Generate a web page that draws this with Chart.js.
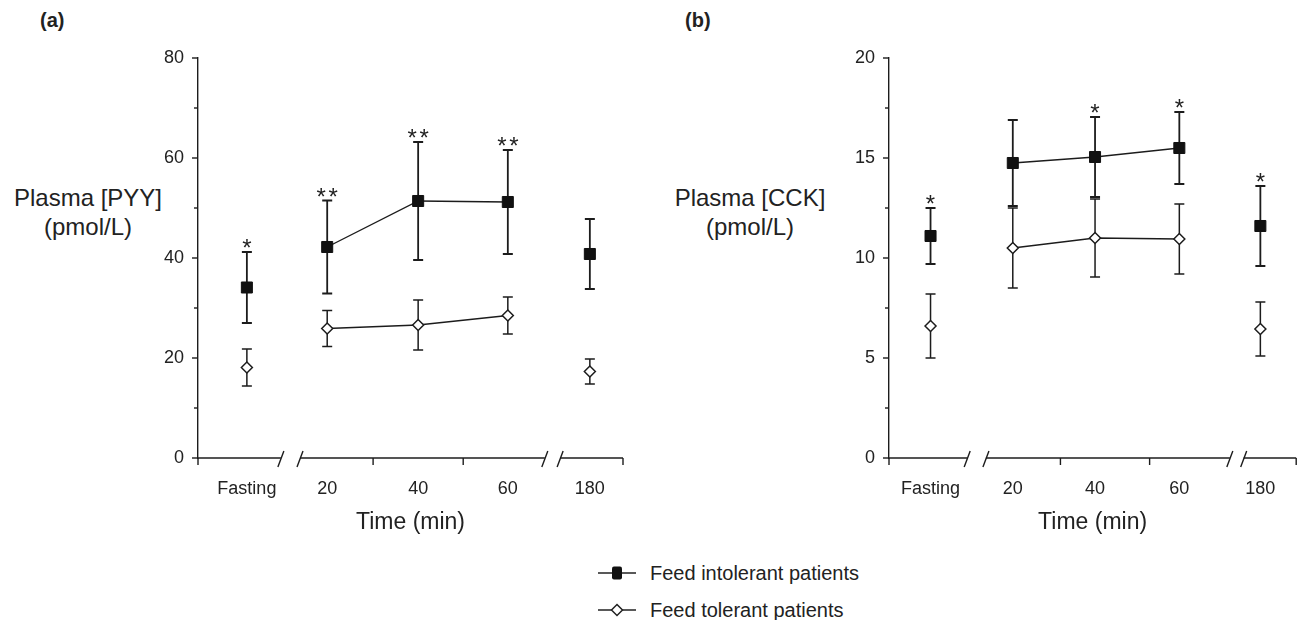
<!DOCTYPE html>
<html>
<head>
<meta charset="utf-8">
<title>Plasma PYY and CCK</title>
<script src="https://cdn.jsdelivr.net/npm/chart.js@4.4.1/dist/chart.umd.min.js"></script>
<style>
  body { margin: 0; width: 1305px; height: 620px; background: #fff; position: relative; overflow: hidden;
         font-family: "Liberation Sans", Arial, sans-serif; color: #222; }
  canvas { position: absolute; top: 0; }
  .tag { position: absolute; top: 9px; font-weight: bold; font-size: 20px; }
  .ylab { position: absolute; top: 183px; font-size: 24px; line-height: 29px; text-align: center;
          transform: translateX(-50%); white-space: nowrap; }
  .leg { position: absolute; left: 598px; font-size: 20px; display: flex; align-items: center; height: 24px; }
  .leg svg { margin-right: 14px; }
</style>
</head>
<body>
<div class="tag" style="left:40px">(a)</div>
<div class="tag" style="left:685px">(b)</div>
<div class="ylab" style="left:88px">Plasma [PYY]<br>(pmol/L)</div>
<div class="ylab" style="left:750px">Plasma [CCK]<br>(pmol/L)</div>

<canvas id="chartPYY" width="650" height="540" style="left:0"></canvas>
<canvas id="chartCCK" width="655" height="540" style="left:650px"></canvas>

<div class="leg" style="top:561px">
  <svg width="38" height="20"><line x1="0" y1="10" x2="38" y2="10" stroke="#222" stroke-width="1.5"/>
    <rect x="14" y="3.5" width="10" height="13" rx="2" fill="#111"/></svg>
  <span>Feed intolerant patients</span>
</div>
<div class="leg" style="top:598px">
  <svg width="38" height="20"><line x1="0" y1="10" x2="38" y2="10" stroke="#222" stroke-width="1.5"/>
    <polygon points="19,4.5 24.5,10 19,15.5 13.5,10" fill="#fff" stroke="#222" stroke-width="1.5"/></svg>
  <span>Feed tolerant patients</span>
</div>

<script>
// time points
const categories = ["Fasting", "20", "40", "60", "180"];
// only 20-40-60 min are joined by a line
const linked = [1, 2, 3];

// PYY (pmol/L), mean and error
const pyyIntolerant = [34.1, 42.2, 51.4, 51.2, 40.8];
const pyyIntolerantErr = [7.1, 9.3, 11.8, 10.4, 7.0];
const pyyTolerant = [18.1, 25.9, 26.6, 28.5, 17.3];
const pyyTolerantErr = [3.7, 3.6, 5.0, 3.7, 2.5];
const pyyStars = ["*", "**", "**", "**", ""];

// CCK (pmol/L), mean and error
const cckIntolerant = [11.1, 14.75, 15.05, 15.5, 11.6];
const cckIntolerantErr = [1.4, 2.15, 2.0, 1.8, 2.0];
const cckTolerant = [6.6, 10.5, 11.0, 10.95, 6.45];
const cckTolerantErr = [1.6, 2.0, 1.95, 1.75, 1.35];
const cckStars = ["*", "", "*", "*", "*"];

// y tick labels
const pyyTicks = [0, 20, 40, 60, 80];
const cckTicks = [0, 5, 10, 15, 20];

const ink = "#1c1c1c";
const fontFamily = '"Liberation Sans", Arial, sans-serif';
Chart.defaults.font.family = fontFamily;
Chart.defaults.color = "#222";

// broken x axis: category slots and breaks as fractions of the axis
const layoutA = { slots: [0.115, 0.304, 0.518, 0.729, 0.922], breaks: [[0.195, 0.24], [0.816, 0.852]], marks: [0.412, 0.624] };
const layoutB = { slots: [0.102, 0.304, 0.506, 0.713, 0.912], breaks: [[0.192, 0.238], [0.837, 0.871]], marks: [0.421, 0.64] };

const axisPlugin = {
  id: "brokenAxis",
  afterDraw(chart) {
    const { ctx, chartArea, scales: { x, y } } = chart;
    const lay = chart.options.plugins.brokenAxis;
    const y0 = chartArea.bottom;
    ctx.save();
    ctx.strokeStyle = ink;
    ctx.lineWidth = 1.4;
    // x axis segments with slashes
    const cuts = [0];
    lay.breaks.forEach(b => cuts.push(b[0], b[1]));
    cuts.push(1);
    for (let i = 0; i < cuts.length; i += 2) {
      const a = x.getPixelForValue(cuts[i]), b = x.getPixelForValue(cuts[i + 1]);
      ctx.beginPath();
      ctx.moveTo(a, y0); ctx.lineTo(b, y0);
      ctx.stroke();
      if (i > 0) slash(ctx, a, y0);
      if (i + 1 < cuts.length - 1) slash(ctx, b, y0);
    }
    // downward ticks on x axis
    [0, ...lay.marks, 1].forEach(v => {
      const px = x.getPixelForValue(v);
      ctx.beginPath(); ctx.moveTo(px, y0); ctx.lineTo(px, y0 + 7); ctx.stroke();
    });
    // y ticks, major and minor
    const step = lay.minor;
    for (let v = y.min; v <= y.max + 1e-9; v += step) {
      const py = y.getPixelForValue(v);
      const len = lay.major.includes(v) ? 6 : 4;
      ctx.beginPath(); ctx.moveTo(chartArea.left - len, py); ctx.lineTo(chartArea.left, py); ctx.stroke();
    }
    ctx.restore();
  }
};

function slash(ctx, px, py) {
  ctx.beginPath();
  ctx.moveTo(px - 3, py + 9);
  ctx.lineTo(px + 3, py - 7);
  ctx.stroke();
}

const errorPlugin = {
  id: "errorBars",
  beforeDatasetsDraw(chart) {
    const { ctx, scales: { y } } = chart;
    chart.data.datasets.forEach((ds, di) => {
      const meta = chart.getDatasetMeta(di);
      ctx.save();
      ctx.strokeStyle = ink;
      ctx.lineWidth = ds.errWidth;
      meta.data.forEach((pt, i) => {
        const v = ds.data[i].y, e = ds.errors[i];
        const top = y.getPixelForValue(v + e), bot = y.getPixelForValue(v - e);
        ctx.beginPath();
        ctx.moveTo(pt.x, top); ctx.lineTo(pt.x, bot);
        ctx.moveTo(pt.x - 5, top); ctx.lineTo(pt.x + 5, top);
        ctx.moveTo(pt.x - 5, bot); ctx.lineTo(pt.x + 5, bot);
        ctx.stroke();
      });
      ctx.restore();
    });
  },
  afterDatasetsDraw(chart) {
    const { ctx, scales: { y } } = chart;
    const ds = chart.data.datasets[0];
    const meta = chart.getDatasetMeta(0);
    ctx.save();
    ctx.fillStyle = "#222";
    ctx.font = "24px " + fontFamily;
    ctx.textAlign = "center";
    ctx.textBaseline = "alphabetic";
    meta.data.forEach((pt, i) => {
      const s = ds.stars[i];
      if (!s) return;
      const top = y.getPixelForValue(ds.data[i].y + ds.errors[i]);
      for (let k = 0; k < s.length; k++) {
        const off = (k - (s.length - 1) / 2) * 12;
        ctx.fillText("*", pt.x + off, top + 4);
      }
    });
    ctx.restore();
  }
};

function makePanel(id, lay, intolerant, intolerantErr, tolerant, tolerantErr, stars, yTicks, minorStep, yAxisWidth, padRight) {
  const toPoints = arr => categories.map((c, i) => ({ x: lay.slots[i], y: arr[i] }));
  const seg = {
    borderColor: c => (linked.includes(c.p0DataIndex) && linked.includes(c.p1DataIndex)) ? ink : "rgba(0,0,0,0)"
  };
  new Chart(document.getElementById(id), {
    type: "line",
    data: {
      datasets: [
        {
          label: "Feed intolerant patients",
          data: toPoints(intolerant),
          errors: intolerantErr,
          stars: stars,
          errWidth: 1.8,
          borderColor: ink,
          borderWidth: 1.4,
          pointStyle: "rect",
          pointRadius: 7.8,
          pointBackgroundColor: "#111",
          pointBorderColor: "#111",
          pointBorderWidth: 1,
          segment: seg,
          order: 1
        },
        {
          label: "Feed tolerant patients",
          data: toPoints(tolerant),
          errors: tolerantErr,
          stars: [],
          errWidth: 1.5,
          borderColor: ink,
          borderWidth: 1.4,
          pointStyle: "rectRot",
          pointRadius: 5.5,
          pointBackgroundColor: "#fff",
          pointBorderColor: ink,
          pointBorderWidth: 1.5,
          segment: seg,
          order: 2
        }
      ]
    },
    options: {
      responsive: false,
      animation: false,
      layout: { padding: { left: 0, top: 58, right: padRight, bottom: 2 } },
      plugins: {
        legend: { display: false },
        tooltip: { enabled: false },
        brokenAxis: { breaks: lay.breaks, marks: lay.marks, minor: minorStep, major: yTicks }
      },
      scales: {
        x: {
          type: "linear",
          min: 0,
          max: 1,
          afterBuildTicks: s => { s.ticks = lay.slots.map(v => ({ value: v })); },
          afterFit: s => { s.height = 80; },
          grid: { display: false, drawTicks: false },
          border: { display: false },
          ticks: {
            autoSkip: false,
            maxRotation: 0,
            padding: 20,
            font: { size: 18 },
            callback: (v, i) => categories[i]
          },
          title: { display: true, text: "Time (min)", font: { size: 23 }, padding: { top: 0, bottom: 2 } }
        },
        y: {
          min: yTicks[0],
          max: yTicks[yTicks.length - 1],
          afterBuildTicks: s => { s.ticks = yTicks.map(v => ({ value: v })); },
          afterFit: s => { s.width = yAxisWidth; },
          grid: { display: false, drawTicks: false },
          border: { display: true, color: ink, width: 1.4 },
          ticks: { padding: 14, font: { size: 18 } }
        }
      }
    },
    plugins: [errorPlugin, axisPlugin]
  });
}

makePanel("chartPYY", layoutA, pyyIntolerant, pyyIntolerantErr, pyyTolerant, pyyTolerantErr, pyyStars, pyyTicks, 10, 198, 27);
makePanel("chartCCK", layoutB, cckIntolerant, cckIntolerantErr, cckTolerant, cckTolerantErr, cckStars, cckTicks, 2.5, 239, 5);
</script>
</body>
</html>
